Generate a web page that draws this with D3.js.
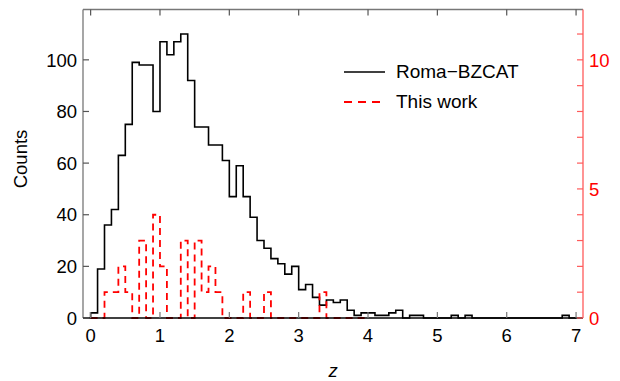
<!DOCTYPE html>
<html>
<head>
<meta charset="utf-8">
<script src="https://cdn.jsdelivr.net/npm/d3@7"></script>
<style>
  body { margin: 0; background: #fff; }
  svg { display: block; font-family: 'Liberation Sans', Arial, sans-serif; }
</style>
</head>
<body>
<div id="chart"></div>
<script>
// histogram bins: start at z = 0, width 0.1
const binStart = 0
const binWidth = 0.1

// Roma-BZCAT counts (left axis)
const bzcatCounts = [
  2, 19, 36, 42, 63, 75, 99, 98, 98, 80,
  107, 102, 107, 110, 92, 74, 74, 67, 67, 61,
  47, 59, 47, 39, 30, 27, 23, 21, 17, 20,
  11, 13, 8, 5, 7, 6, 7, 3, 1, 2,
  2, 1, 1, 2, 3, 0, 1, 1, 0, 0,
  0, 0, 1, 0, 1, 0, 0, 0, 0, 0,
  0, 0, 0, 0, 0, 0, 0, 0, 1, 0
]

// this work counts (right axis)
const thisWorkCounts = [
  0, 0, 1, 1, 2, 1, 0, 3, 0, 4,
  2, 0, 0, 3, 0, 3, 1, 2, 1, 0,
  0, 0, 1, 0, 0, 1, 0, 0, 0, 0,
  0, 0, 0, 1, 0, 0, 0, 0, 0, 0
]

const xTicks = [0, 1, 2, 3, 4, 5, 6, 7]
const leftTicks = [0, 20, 40, 60, 80, 100]
const rightTicks = [0, 5, 10]
const rightMinor = [1, 2, 3, 4, 6, 7, 8, 9, 11]
const legendLabels = ['Roma\u2212BZCAT', 'This work']

const width = 620
const height = 381
const margin = { top: 9.5, left: 83, right: 37, bottom: 63 }
const fontSize = 18.5

const svg = d3
  .select('#chart')
  .append('svg')
  .attr('width', width)
  .attr('height', height)

const x = d3.scaleLinear().domain([-0.11, 7.1]).range([margin.left, width - margin.right])
const yLeft = d3.scaleLinear().domain([0, 119.5]).range([height - margin.bottom, margin.top])
const yRight = d3.scaleLinear().domain([0, 11.95]).range([height - margin.bottom, margin.top])

const x0 = margin.left
const x1 = width - margin.right
const yBase = height - margin.bottom
const yTop = margin.top

function stepPoints(counts) {
  const pts = [[binStart, 0]]
  counts.forEach((c, i) => pts.push([binStart + i * binWidth, c]))
  pts.push([binStart + counts.length * binWidth, 0])
  return pts
}

// histograms
const bzLine = d3.line()
  .x(d => x(d[0]))
  .y(d => yLeft(d[1]))
  .curve(d3.curveStepAfter)

const twLine = d3.line()
  .x(d => x(d[0]))
  .y(d => yRight(d[1]))
  .curve(d3.curveStepAfter)

svg.append('path')
  .attr('d', bzLine(stepPoints(bzcatCounts)))
  .attr('fill', 'none')
  .attr('stroke', '#000')
  .attr('stroke-width', 1.6)

svg.append('path')
  .attr('d', twLine(stepPoints(thisWorkCounts)))
  .attr('fill', 'none')
  .attr('stroke', '#ff0000')
  .attr('stroke-width', 1.8)
  .attr('stroke-dasharray', '7,5')

// frame: top and left gray, bottom black
svg.append('line')
  .attr('x1', x0).attr('x2', x1).attr('y1', yTop).attr('y2', yTop)
  .attr('stroke', '#777').attr('stroke-width', 1.3)
svg.append('line')
  .attr('x1', x0).attr('x2', x0).attr('y1', yTop).attr('y2', yBase)
  .attr('stroke', '#777').attr('stroke-width', 1.3)
svg.append('line')
  .attr('x1', x0).attr('x2', x1).attr('y1', yBase).attr('y2', yBase)
  .attr('stroke', '#000').attr('stroke-width', 1.5)

// x ticks, bottom and top, pointing inward
const tickLen = 6
svg.selectAll('.xtick-b')
  .data(xTicks)
  .enter()
  .append('line')
  .attr('x1', d => x(d)).attr('x2', d => x(d))
  .attr('y1', yBase).attr('y2', yBase - tickLen)
  .attr('stroke', '#777').attr('stroke-width', 1.2)

svg.selectAll('.xtick-t')
  .data(xTicks)
  .enter()
  .append('line')
  .attr('x1', d => x(d)).attr('x2', d => x(d))
  .attr('y1', yTop).attr('y2', yTop + tickLen)
  .attr('stroke', '#555').attr('stroke-width', 1.2)

svg.selectAll('.xlabel')
  .data(xTicks)
  .enter()
  .append('text')
  .text(d => d)
  .attr('x', d => x(d))
  .attr('y', 342)
  .attr('font-size', fontSize)
  .attr('text-anchor', 'middle')
  .attr('fill', '#000')

// left axis
svg.selectAll('.ytick')
  .data(leftTicks)
  .enter()
  .append('line')
  .attr('x1', x0).attr('x2', x0 + tickLen)
  .attr('y1', d => yLeft(d)).attr('y2', d => yLeft(d))
  .attr('stroke', '#555').attr('stroke-width', 1.2)

svg.selectAll('.ylabel')
  .data(leftTicks)
  .enter()
  .append('text')
  .text(d => d)
  .attr('x', 77)
  .attr('y', d => yLeft(d))
  .attr('dy', '0.36em')
  .attr('font-size', fontSize)
  .attr('text-anchor', 'end')
  .attr('fill', '#000')

// right axis (red)
svg.append('line')
  .attr('x1', x1).attr('x2', x1).attr('y1', yTop).attr('y2', yBase)
  .attr('stroke', '#ff5a5a').attr('stroke-width', 1.3)

svg.selectAll('.rtick')
  .data(rightTicks.concat(rightMinor))
  .enter()
  .append('line')
  .attr('x1', x1).attr('x2', x1 - tickLen)
  .attr('y1', d => yRight(d)).attr('y2', d => yRight(d))
  .attr('stroke', '#ff5a5a').attr('stroke-width', 1.2)

svg.selectAll('.rlabel')
  .data(rightTicks)
  .enter()
  .append('text')
  .text(d => d)
  .attr('x', 589)
  .attr('y', d => yRight(d))
  .attr('dy', '0.36em')
  .attr('font-size', fontSize)
  .attr('text-anchor', 'start')
  .attr('fill', '#ff0000')

// axis titles
svg.append('text')
  .text('Counts')
  .attr('transform', 'translate(27,159) rotate(-90)')
  .attr('font-size', fontSize)
  .attr('text-anchor', 'middle')
  .attr('fill', '#000')

svg.append('text')
  .text('z')
  .attr('x', 333)
  .attr('y', 377)
  .attr('font-size', fontSize)
  .attr('font-style', 'italic')
  .attr('text-anchor', 'middle')
  .attr('fill', '#000')

// legend
const legend = svg.append('g')
legend.append('line')
  .attr('x1', 344).attr('x2', 385).attr('y1', 72).attr('y2', 72)
  .attr('stroke', '#000').attr('stroke-width', 1.6)
legend.append('line')
  .attr('x1', 344).attr('x2', 385).attr('y1', 102).attr('y2', 102)
  .attr('stroke', '#ff0000').attr('stroke-width', 1.8)
  .attr('stroke-dasharray', '8,6')

legend.selectAll('text')
  .data(legendLabels)
  .enter()
  .append('text')
  .text(d => d)
  .attr('x', 396)
  .attr('y', (d, i) => 78 + i * 29.5)
  .attr('font-size', 19)
  .attr('fill', '#000')
</script>
</body>
</html>
